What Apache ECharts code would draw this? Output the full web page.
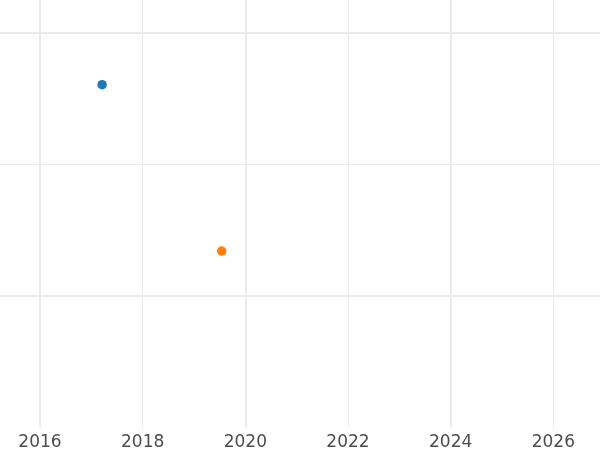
<!DOCTYPE html>
<html>
<head>
<meta charset="utf-8">
<script src="https://cdn.jsdelivr.net/npm/echarts@6/dist/echarts.min.js"></script>
<style>html,body{margin:0;padding:0;background:#fff}#c{width:600px;height:450px}</style>
</head>
<body>
<div id="c"></div>
<script>
// Data
const seriesNames = ['Series 1', 'Series 2'];
const seriesColors = ['#1f77b4', '#ff7f0e'];
const xValues = [2017.21, 2019.54];
const yValues = [1.607, 0.342];
const xTickLabels = ['2016', '2018', '2020', '2022', '2024', '2026'];

const chart = echarts.init(document.getElementById('c'), null, {renderer: 'canvas'});
const gridColor = '#ebebeb';

const series = seriesNames.map((name, i) => ({
  name: name,
  type: 'scatter',
  xAxisIndex: 0,
  yAxisIndex: 0,
  symbolSize: 9.5,
  itemStyle: {color: seriesColors[i], opacity: 1},
  data: [[xValues[i], yValues[i]]],
  z: 5
}));

const option = {
  backgroundColor: '#fff',
  animation: false,
  grid: [
    // main panel (visible region y=-1..3, x=2012..2028 extends beyond canvas)
    {left: -165.33, right: -56, top: -98.5, bottom: 22.5, containLabel: false, outerBoundsMode: 'none'},
    // helper grid for major horizontal lines
    {left: 0, right: 0, top: -230, bottom: -109, containLabel: false, outerBoundsMode: 'none'}
  ],
  xAxis: [
    {
      gridIndex: 0, type: 'value', min: 2012, max: 2028, interval: 2, position: 'bottom',
      axisLine: {show: false}, axisTick: {show: false},
      axisLabel: {
        show: true, color: '#4d4d4d', fontSize: 17, fontFamily: 'DejaVu Sans', margin: 7,
        formatter: v => (xTickLabels.indexOf(String(v)) >= 0 ? String(v) : '')
      },
      splitLine: {show: true, lineStyle: {color: gridColor, width: 1}}
    },
    {
      gridIndex: 0, type: 'value', min: 2012, max: 2028, interval: 4, position: 'bottom',
      axisLine: {show: false}, axisTick: {show: false}, axisLabel: {show: false},
      splitLine: {show: true, lineStyle: {color: gridColor, width: 2}}
    },
    {
      gridIndex: 1, type: 'value', min: 0, max: 1, show: false,
      splitLine: {show: false}
    }
  ],
  yAxis: [
    {
      gridIndex: 0, type: 'value', min: -1, max: 3, interval: 1,
      axisLine: {show: false}, axisTick: {show: false}, axisLabel: {show: false},
      splitLine: {show: true, showMinLine: false, showMaxLine: false, lineStyle: {color: gridColor, width: 1}}
    },
    {
      gridIndex: 1, type: 'value', min: -2, max: 4, interval: 2,
      axisLine: {show: false}, axisTick: {show: false}, axisLabel: {show: false},
      splitLine: {show: true, lineStyle: {color: gridColor, width: 2}}
    }
  ],
  series: series
};
chart.setOption(option);
</script>
</body>
</html>
